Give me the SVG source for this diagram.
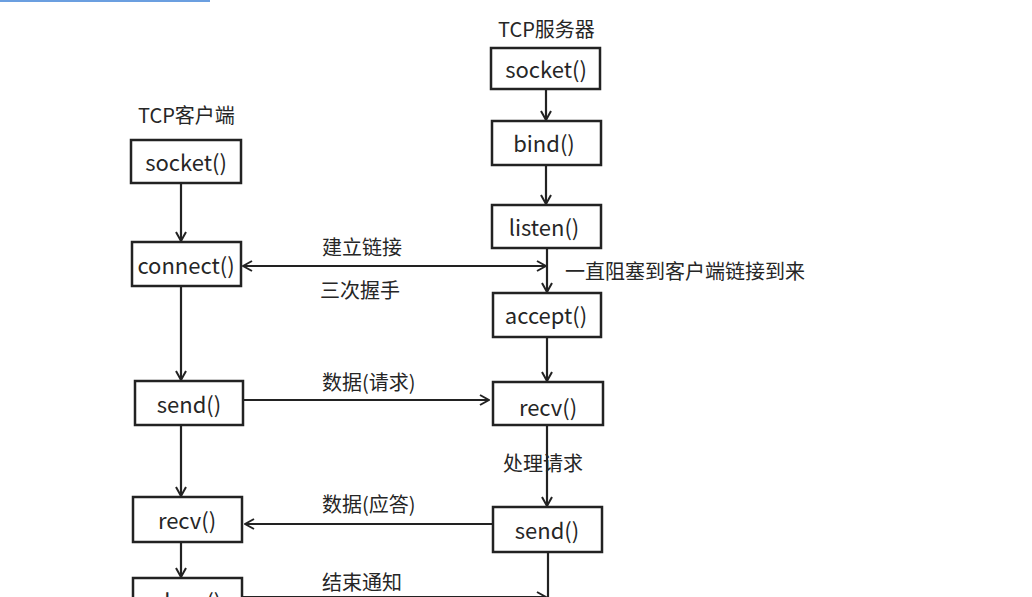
<svg xmlns="http://www.w3.org/2000/svg" width="1032" height="597" viewBox="0 0 1032 597">
<style>
.box{fill:#fff;stroke:#222;stroke-width:2.5}
.t{font-family:"Noto Sans CJK SC","Noto Sans",sans-serif;font-size:22px;fill:#262626;text-anchor:middle;dominant-baseline:central}
.l{font-family:"Noto Sans CJK SC","Noto Sans",sans-serif;font-size:20px;fill:#262626;dominant-baseline:central}
.c{stroke:#222;stroke-width:2.2;fill:none}
</style>
<defs>
<marker id="ah" viewBox="0 0 12 12" refX="11" refY="6" markerWidth="12" markerHeight="12" markerUnits="userSpaceOnUse" orient="auto-start-reverse">
<polyline points="2,1 11,6 2,11" fill="none" stroke="#222" stroke-width="2"/>
</marker>
</defs>
<rect x="0" y="0" width="1032" height="597" fill="#fff"/>
<rect x="0" y="0" width="210" height="2" fill="#6b9fe0"/>
<g id="connectors">
<line class="c" x1="546" y1="89" x2="546" y2="120" marker-end="url(#ah)"/>
<line class="c" x1="546" y1="165" x2="546" y2="204" marker-end="url(#ah)"/>
<line class="c" x1="547" y1="248" x2="547" y2="292" marker-end="url(#ah)"/>
<line class="c" x1="547" y1="337" x2="547" y2="381" marker-end="url(#ah)"/>
<line class="c" x1="547" y1="425" x2="547" y2="506" marker-end="url(#ah)"/>
<line class="c" x1="548" y1="552" x2="548" y2="597"/>
<line class="c" x1="181" y1="183" x2="181" y2="241" marker-end="url(#ah)"/>
<line class="c" x1="181" y1="286" x2="181" y2="380" marker-end="url(#ah)"/>
<line class="c" x1="181" y1="425" x2="181" y2="496" marker-end="url(#ah)"/>
<line class="c" x1="181" y1="542" x2="181" y2="577" marker-end="url(#ah)"/>
<line class="c" x1="243" y1="266" x2="546" y2="266" marker-start="url(#ah)" marker-end="url(#ah)"/>
<line class="c" x1="244" y1="400" x2="489" y2="400" marker-end="url(#ah)"/>
<line class="c" x1="493" y1="524" x2="245" y2="524" marker-end="url(#ah)"/>
<line class="c" x1="243" y1="597" x2="546" y2="597" marker-end="url(#ah)"/>
<text class="l" x="322" y="246">建立链接</text>
<text class="l" x="320" y="289">三次握手</text>
<text class="l" x="565" y="270">一直阻塞到客户端链接到来</text>
<text class="l" x="322" y="381">数据(请求)</text>
<text class="l" x="503" y="462">处理请求</text>
<text class="l" x="322" y="503">数据(应答)</text>
<text class="l" x="322" y="581">结束通知</text>
</g>
<text class="l" x="498" y="28">TCP服务器</text>
<text class="l" x="138" y="114">TCP客户端</text>
<g id="s_socket"><rect class="box" x="491" y="48" width="109" height="41"/><text class="t" x="546" y="68">socket()</text></g>
<g id="s_bind"><rect class="box" x="492" y="121" width="109" height="44"/><text class="t" x="544" y="142">bind()</text></g>
<g id="s_listen"><rect class="box" x="492" y="205" width="109" height="43"/><text class="t" x="544" y="226">listen()</text></g>
<g id="s_accept"><rect class="box" x="493" y="293" width="108" height="44"/><text class="t" x="546" y="314">accept()</text></g>
<g id="s_recv"><rect class="box" x="493" y="382" width="110" height="43"/><text class="t" x="548" y="406">recv()</text></g>
<g id="s_send"><rect class="box" x="493" y="507" width="109" height="45"/><text class="t" x="547" y="529">send()</text></g>
<g id="c_socket"><rect class="box" x="131" y="140" width="110" height="43"/><text class="t" x="186" y="161">socket()</text></g>
<g id="c_connect"><rect class="box" x="132" y="242" width="109" height="44"/><text class="t" x="186" y="264">connect()</text></g>
<g id="c_send"><rect class="box" x="135" y="381" width="108" height="44"/><text class="t" x="189" y="403">send()</text></g>
<g id="c_recv"><rect class="box" x="133" y="497" width="109" height="45"/><text class="t" x="187" y="519">recv()</text></g>
<g id="c_close"><rect class="box" x="133" y="578" width="109" height="40"/><text class="t" x="187" y="600">close()</text></g>
</svg>
